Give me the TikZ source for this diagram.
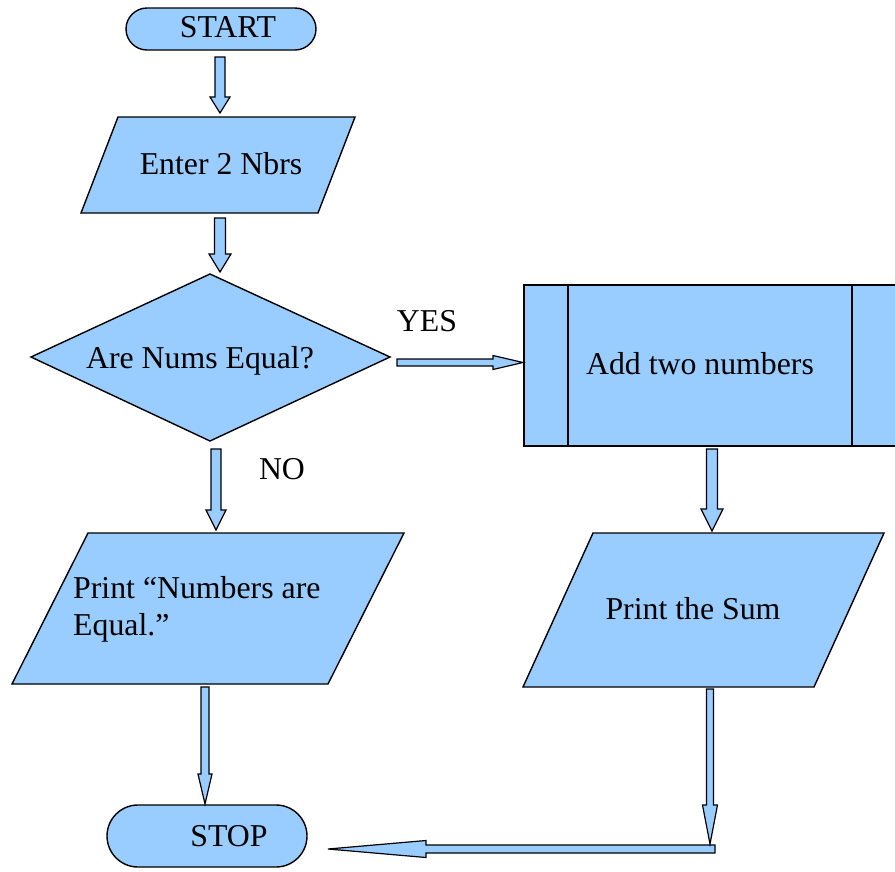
\documentclass[tikz,border=0pt]{standalone}
\usepackage{fontspec}
\setmainfont{Liberation Serif}
\usetikzlibrary{calc}
\definecolor{lblue}{RGB}{153,204,255}
\tikzset{
  shapebox/.style={draw=black, fill=lblue, line width=1.4pt, line join=miter},
  arr/.style={draw=black, fill=lblue, line width=1.2pt, line join=miter},
  lbl/.style={font=\fontsize{31.8}{37.5}\selectfont, text=black, inner sep=0pt},
}
\newcommand\blockarr[5]{%
  \path ($(#2)!#5!(#1)$) coordinate (bh);
  \draw[arr] ($(#1)!#3!90:(#2)$) -- ($(bh)!#3!90:(#2)$) -- ($(bh)!#4!90:(#2)$) -- (#2)
     -- ($(bh)!#4!-90:(#2)$) -- ($(bh)!#3!-90:(#2)$) -- ($(#1)!#3!-90:(#2)$) -- cycle;
}
\begin{document}
\begin{tikzpicture}[x=1pt,y=-1pt]
\useasboundingbox (0,0) rectangle (895,871);
\clip (0,0) rectangle (895,871);
% shapes
\draw[shapebox, rounded corners=21pt] (126,8) rectangle (316,50);
\node[lbl, anchor=base] (start) at (228,37) {START};
\draw[shapebox] (118,117) -- (355,117) -- (318,213) -- (81,213) -- cycle;
\node[lbl, anchor=base] (enter) at (221,174) {Enter 2 Nbrs};
\draw[shapebox] (31,357) -- (210,274) -- (390,357) -- (210,441) -- cycle;
\node[lbl, anchor=base] (decide) at (200,368) {Are Nums Equal?};
\draw[shapebox] (524,285) rectangle (910,446);
\draw[line width=1.4pt] (568,285) -- (568,446) (852,285) -- (852,446);
\node[lbl, anchor=base] (add) at (700,374) {Add two numbers};
\draw[shapebox] (593,533) -- (884,533) -- (814,687) -- (523,687) -- cycle;
\node[lbl, anchor=base] (psum) at (693,619) {Print the Sum};
\draw[shapebox] (88,533) -- (404,533) -- (328,684) -- (12,684) -- cycle;
\node[lbl, anchor=north west, align=left] (peq) at (73,576) {Print “Numbers are\\Equal.”};
\draw[shapebox, rounded corners=31pt] (107,805) rectangle (307,867);
\node[lbl, anchor=base] (stop) at (229,846) {STOP};
\node[lbl, anchor=base] (yes) at (427,331) {YES};
\node[lbl, anchor=base] (no) at (282,479) {NO};
% connector end points
\coordinate (a1s) at (220,57);   \coordinate (a1t) at (220,113);
\coordinate (a2s) at (220,218);  \coordinate (a2t) at (220,272);
\coordinate (ys) at (397,362.5); \coordinate (yt) at (523,362.5);
\coordinate (ns) at (216,449);   \coordinate (nt) at (216,530);
\coordinate (ps) at (712,449);   \coordinate (pt) at (712,531);
\coordinate (es) at (205,687);   \coordinate (et) at (205,804);
\coordinate (ss) at (710,689);   \coordinate (st) at (710,844);
\coordinate (bs) at (715,849);   \coordinate (bt) at (328,849);
% connectors
\blockarr{a1s}{a1t}{5pt}{10pt}{16pt}
\blockarr{a2s}{a2t}{5.5pt}{11pt}{18pt}
\blockarr{ys}{yt}{3.5pt}{7pt}{30pt}
\blockarr{ns}{nt}{5pt}{10pt}{20pt}
\blockarr{ps}{pt}{5.5pt}{11pt}{22pt}
\blockarr{es}{et}{4pt}{7pt}{30pt}
\blockarr{bs}{bt}{4pt}{8.5pt}{98pt}
\blockarr{ss}{st}{3.5pt}{7.5pt}{39pt}
\end{tikzpicture}
\end{document}
